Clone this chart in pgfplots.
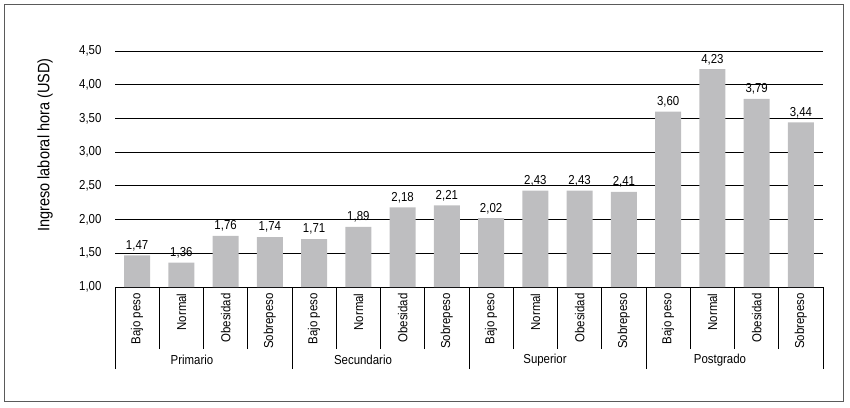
\documentclass[border=0pt]{standalone}
\usepackage{pgfplots}
\pgfplotsset{compat=1.18}
\usepackage{fontspec}
\setmainfont{Liberation Sans}[FakeStretch=0.88]
\definecolor{bargray}{RGB}{190,190,192}
\definecolor{framegray}{RGB}{90,90,90}
\pgfkeys{/pgf/number format/fixed, /pgf/number format/fixed zerofill, /pgf/number format/precision=2, /pgf/number format/use comma, /pgf/number format/assume math mode=true}
\begin{document}
\begin{tikzpicture}[font=\fontsize{13}{15}\selectfont]
\useasboundingbox (-115pt,-120pt) rectangle (735pt,287pt);
\draw[draw=framegray, line width=1pt] (-110pt,-114pt) rectangle (728pt,282pt);
\begin{axis}[
  at={(0pt,0pt)}, anchor=south west,
  scale only axis, width=708pt, height=236pt,
  xmin=-0.5, xmax=15.5, ymin=1, ymax=4.5,
  ybar, bar width=26pt,
  axis x line=bottom, axis y line=left,
  axis line style={-},
  y axis line style={draw=none},
  ymajorgrids, grid style={black, line width=0.8pt},
  ytick={1,1.5,2,2.5,3,3.5,4,4.5},
  yticklabel style={font=\fontsize{13}{15}\selectfont, /pgf/number format/fixed, /pgf/number format/fixed zerofill, /pgf/number format/precision=2, /pgf/number format/use comma, /pgf/number format/assume math mode=true},
  yticklabel shift=10pt,
  xtick={0,...,15},
  xticklabels={Bajo peso,Normal,Obesidad,Sobrepeso,Bajo peso,Normal,Obesidad,Sobrepeso,Bajo peso,Normal,Obesidad,Sobrepeso,Bajo peso,Normal,Obesidad,Sobrepeso},
  xticklabel style={rotate=90, anchor=east, font=\fontsize{13}{15}\selectfont},
  xticklabel shift=3pt,
  major tick length=0pt,
  minor xtick={-0.5,0.5,...,15.5},
  minor tick length=62pt,
  tick align=outside,
  tick style={black, line width=0.8pt},
  extra x ticks={-0.5,3.5,7.5,11.5,15.5},
  extra x tick labels={},
  extra x tick style={major tick length=82pt, tick style={black, line width=0.8pt}},
  nodes near coords,
  every node near coord/.append style={font=\fontsize{13}{15}\selectfont, yshift=1pt},
]
\addplot[fill=bargray, draw=none] coordinates {
(0,1.47) (1,1.36) (2,1.76) (3,1.74)
(4,1.71) (5,1.89) (6,2.18) (7,2.21)
(8,2.02) (9,2.43) (10,2.43) (11,2.41)
(12,3.60) (13,4.23) (14,3.79) (15,3.44)};
\end{axis}
\node[rotate=90, font=\fontsize{16.5}{18}\selectfont] at (-70pt,142pt) {Ingreso laboral hora (USD)};
\node at (77pt,-73pt) {Primario};
\node at (248pt,-73pt) {Secundario};
\node at (430pt,-73pt) {Superior};
\node at (605pt,-73pt) {Postgrado};
\end{tikzpicture}
\end{document}
